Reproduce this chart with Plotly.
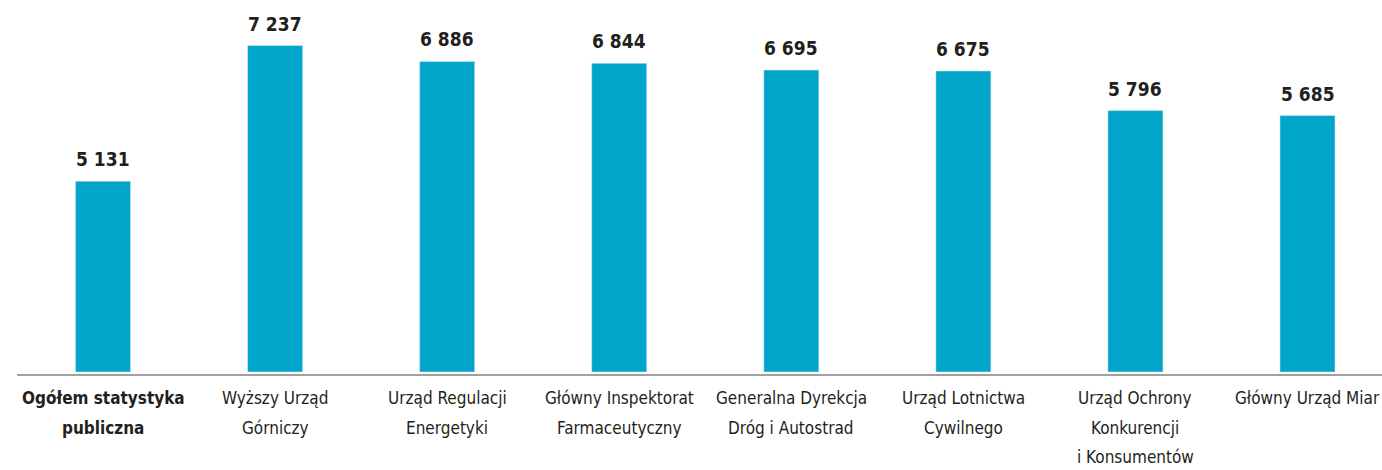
import plotly.graph_objects as go

# Przeciętne wynagrodzenie — urzędy
label_lines = [
    ["Ogółem statystyka", "publiczna"],
    ["Wyższy Urząd", "Górniczy"],
    ["Urząd Regulacji", "Energetyki"],
    ["Główny Inspektorat", "Farmaceutyczny"],
    ["Generalna Dyrekcja", "Dróg i Autostrad"],
    ["Urząd Lotnictwa", "Cywilnego"],
    ["Urząd Ochrony", "Konkurencji", "i Konsumentów"],
    ["Główny Urząd Miar"],
]
total_value = [5131]
office_values = [7237, 6886, 6844, 6695, 6675, 5796, 5685]

BAR = "#00a5c9"
TXT = "#231f20"
FONT = "DejaVu Sans Condensed, Liberation Sans Narrow, Arial Narrow, sans-serif"


def fmt(v):
    return f"{v:,}".replace(",", " ")


x_total = [0]
x_offices = list(range(1, len(label_lines)))

fig = go.Figure()
# pierwszy słupek ma w oryginale własną skalę
fig.add_trace(go.Bar(x=x_total, y=total_value, marker_color=BAR, width=0.32,
                     yaxis="y2", showlegend=False, hoverinfo="skip"))
fig.add_trace(go.Bar(x=x_offices, y=office_values, marker_color=BAR, width=0.32,
                     showlegend=False, hoverinfo="skip"))

for x, v in zip(x_total, total_value):
    fig.add_annotation(x=x, y=v, yref="y2", text=f"<b>{fmt(v)}</b>", showarrow=False,
                       yanchor="bottom", yshift=9, font=dict(size=19, color=TXT, family=FONT))
for x, v in zip(x_offices, office_values):
    fig.add_annotation(x=x, y=v, yref="y", text=f"<b>{fmt(v)}</b>", showarrow=False,
                       yanchor="bottom", yshift=9, font=dict(size=19, color=TXT, family=FONT))

# etykiety kategorii (większy odstęp między wierszami niż w tickach)
for i, lines in enumerate(label_lines):
    for k, line in enumerate(lines):
        txt = f"<b>{line}</b>" if i == 0 else line
        fig.add_annotation(x=i, xref="x", y=0, yref="paper", text=txt, showarrow=False,
                           yanchor="top", yshift=-14 - 29.5 * k,
                           font=dict(size=17, color=TXT, family=FONT))

fig.add_shape(type="line", xref="paper", yref="paper", x0=0, x1=1, y0=-0.008, y1=-0.008,
              line=dict(color="#a0a0a0", width=2))

fig.update_layout(
    width=1382, height=470,
    margin=dict(l=17, r=0, t=0, b=98),
    plot_bgcolor="white", paper_bgcolor="white",
    font=dict(family=FONT, size=17, color=TXT),
    xaxis=dict(range=[-0.5, 7.433], showticklabels=False,
               showgrid=False, zeroline=False, showline=False, ticks=""),
    yaxis=dict(range=[0, 8248], visible=False),
    yaxis2=dict(range=[0, 10000], overlaying="y", visible=False),
)

fig.write_html("out.html", config={"displayModeBar": False},
               post_script="document.body.style.margin='0';")
